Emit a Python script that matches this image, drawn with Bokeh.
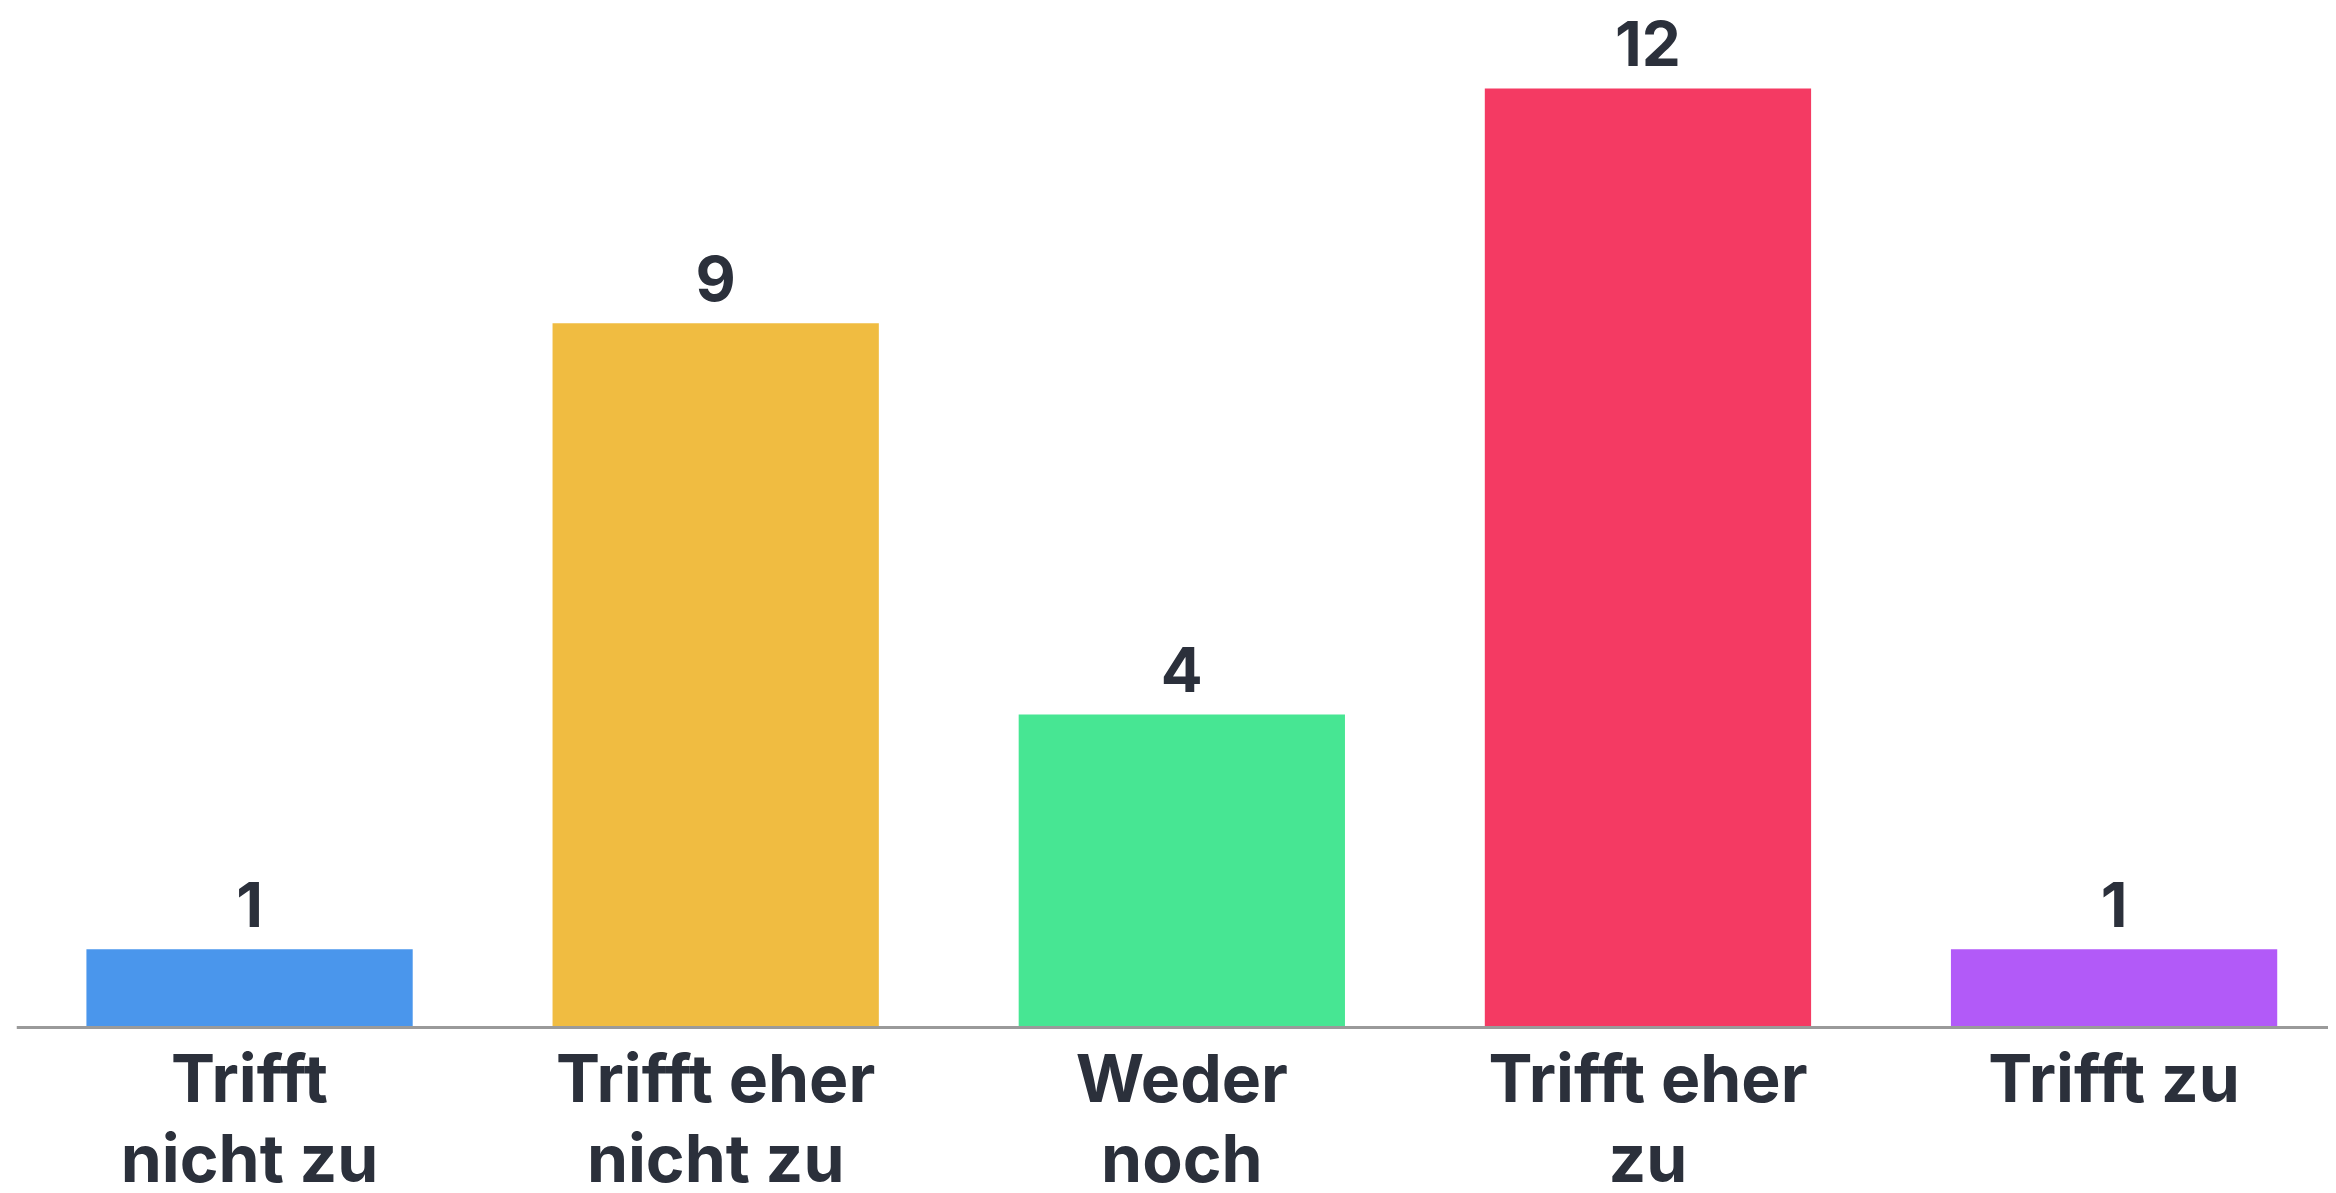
from bokeh.plotting import figure
from bokeh.models import Range1d, ColumnDataSource, Span
from bokeh.core.properties import value
from bokeh.embed import file_html
from bokeh.resources import INLINE

categories = ["Trifft\nnicht zu", "Trifft eher\nnicht zu", "Weder\nnoch", "Trifft eher\nzu", "Trifft zu"]
counts = [1, 9, 4, 12, 1]
colors = ["#4A96EC", "#F0BC41", "#47E693", "#F43A63", "#B25AF8"]

FONT = "Inter"
TEXT_COLOR = "#2B303B"

xs = list(range(len(categories)))
src = ColumnDataSource(dict(x=xs, top=counts, color=colors, label=[str(c) for c in counts],
                            cat=categories, zero=[0] * len(xs)))

p = figure(width=2328, height=1185, output_backend="svg", toolbar_location=None,
           x_range=Range1d(-0.5, 4.46), y_range=Range1d(-2.019, 13.125),
           min_border_left=16, min_border_right=0, min_border_top=0, min_border_bottom=0)

p.vbar(x="x", top="top", width=0.7, bottom=0, color="color", source=src, line_width=0)
p.text(x="x", y="top", text="label", source=src, text_align="center", text_baseline="alphabetic",
       y_offset=-45, text_font=value(FONT), text_font_size="62px", text_font_style="bold",
       text_color=TEXT_COLOR)

# category labels under the baseline
p.text(x="x", y="zero", text="cat", source=src, text_align="center", text_baseline="top",
       y_offset=10, text_font=value(FONT), text_font_size="66px", text_font_style="bold",
       text_line_height=1.0, text_color=TEXT_COLOR)

p.add_layout(Span(location=0, dimension="width", line_color="#9A9A9A", line_width=3))

p.xaxis.visible = False
p.yaxis.visible = False
p.xgrid.visible = False
p.ygrid.visible = False
p.outline_line_color = None
p.background_fill_color = "white"
p.border_fill_color = "white"

open("out.html", "w").write(file_html(p, INLINE))
